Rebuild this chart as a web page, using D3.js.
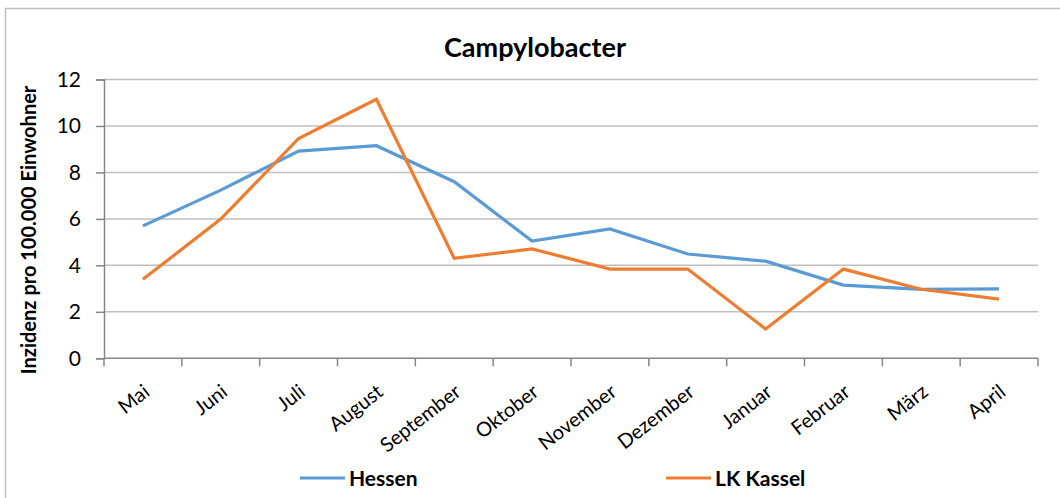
<!DOCTYPE html>
<html>
<head>
<meta charset="utf-8">
<script src="https://cdn.jsdelivr.net/npm/d3@7"></script>
<style>
  body { margin: 0; background: #fff; }
  text { font-family: Lato, "Open Sans", sans-serif; }
</style>
</head>
<body>
<script>
// months and series
var months = ["Mai", "Juni", "Juli", "August", "September", "Oktober",
              "November", "Dezember", "Januar", "Februar", "März", "April"];
var hessen = [5.70, 7.24, 8.92, 9.15, 7.60, 5.05, 5.57, 4.49, 4.18, 3.15, 2.97, 2.99];
var kassel = [3.40, 5.99, 9.46, 11.15, 4.30, 4.71, 3.84, 3.84, 1.26, 3.84, 2.97, 2.55];
var yTicks = [0, 2, 4, 6, 8, 10, 12];

var width = 1060, height = 498;
var plotLeft = 104, plotRight = 1038, plotTop = 79.5, plotBottom = 358.3;

var svg = d3.select("body").append("svg")
    .attr("width", width)
    .attr("height", height);

// outer chart border (right/bottom fall outside the picture)
svg.append("rect")
    .attr("x", 5.5).attr("y", 8.5)
    .attr("width", 1070).attr("height", 500)
    .attr("fill", "none")
    .attr("stroke", "#bfbfbf")
    .attr("stroke-width", 1.5);

var x = d3.scaleBand().domain(months).range([plotLeft, plotRight]);
var y = d3.scaleLinear().domain([0, 12]).range([plotBottom, plotTop]);

// gridlines
svg.selectAll("line.grid")
    .data(yTicks.filter(function(d) { return d > 0; }))
    .enter().append("line")
    .attr("class", "grid")
    .attr("x1", plotLeft).attr("x2", plotRight)
    .attr("y1", function(d) { return y(d); })
    .attr("y2", function(d) { return y(d); })
    .attr("stroke", "#bfbfbf")
    .attr("stroke-width", 1.5);

// y axis
var yAxis = svg.append("g")
    .attr("transform", "translate(" + plotLeft + ",0)")
    .call(d3.axisLeft(y).tickValues(yTicks).tickSize(8).tickPadding(15));
yAxis.selectAll("text")
    .attr("font-size", 21)
    .attr("font-family", "Lato, 'Open Sans', sans-serif")
    .attr("fill", "#000");
yAxis.select(".domain").attr("stroke", "#868686").attr("stroke-width", 1.5);
yAxis.selectAll(".tick line").attr("stroke", "#868686").attr("stroke-width", 1.5);

// x axis with ticks at band edges
var xAxis = svg.append("g")
    .attr("transform", "translate(0," + plotBottom + ")");
xAxis.append("line")
    .attr("x1", plotLeft).attr("x2", plotRight)
    .attr("stroke", "#868686").attr("stroke-width", 1.5);
var edges = d3.range(months.length + 1).map(function(i) { return plotLeft + i * x.bandwidth(); });
xAxis.selectAll("line.tick")
    .data(edges)
    .enter().append("line")
    .attr("class", "tick")
    .attr("x1", function(d) { return d; })
    .attr("x2", function(d) { return d; })
    .attr("y1", 0).attr("y2", 8)
    .attr("stroke", "#868686").attr("stroke-width", 1.5);
xAxis.selectAll("text")
    .data(months)
    .enter().append("text")
    .attr("transform", function(d) {
        return "translate(" + (x(d) + x.bandwidth() / 2 + 8) + ",36) rotate(-38)";
    })
    .attr("text-anchor", "end")
    .attr("font-size", 20)
    .attr("fill", "#000")
    .text(function(d) { return d; });

// lines
var line = d3.line()
    .x(function(d, i) { return x(months[i]) + x.bandwidth() / 2; })
    .y(function(d) { return y(d); });

svg.append("path")
    .datum(hessen)
    .attr("d", line)
    .attr("fill", "none")
    .attr("stroke", "#5b9bd5")
    .attr("stroke-width", 3.2);

svg.append("path")
    .datum(kassel)
    .attr("d", line)
    .attr("fill", "none")
    .attr("stroke", "#ed7d31")
    .attr("stroke-width", 3.2);

// title
svg.append("text")
    .attr("x", 535).attr("y", 57)
    .attr("text-anchor", "middle")
    .attr("font-size", 27)
    .attr("font-weight", "bold")
    .text("Campylobacter");

// y axis title
svg.append("text")
    .attr("transform", "translate(36,230) rotate(-90)")
    .attr("text-anchor", "middle")
    .attr("font-size", 20)
    .attr("font-weight", "bold")
    .text("Inzidenz pro 100.000 Einwohner");

// legend
var legend = [
    { name: "Hessen", color: "#5b9bd5", x: 300 },
    { name: "LK Kassel", color: "#ed7d31", x: 666 }
];
var lg = svg.selectAll("g.legend")
    .data(legend)
    .enter().append("g")
    .attr("transform", function(d) { return "translate(" + d.x + ",478)"; });
lg.append("line")
    .attr("x1", 0).attr("x2", 45)
    .attr("stroke", function(d) { return d.color; })
    .attr("stroke-width", 3.2);
lg.append("text")
    .attr("x", 49).attr("y", 8)
    .attr("font-size", 21)
    .attr("font-weight", "bold")
    .text(function(d) { return d.name; });
</script>
</body>
</html>
